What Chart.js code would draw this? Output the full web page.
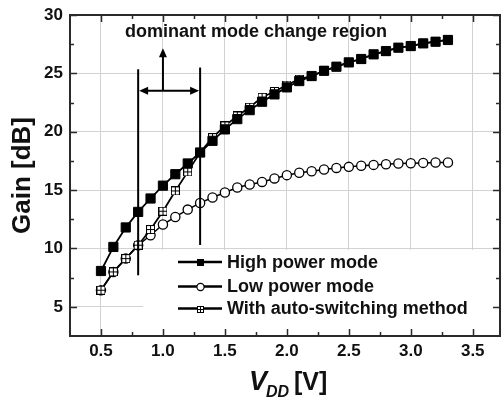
<!DOCTYPE html>
<html><head><meta charset="utf-8">
<script src="https://cdn.jsdelivr.net/npm/chart.js@4"></script>
<style>html,body{margin:0;padding:0;background:#fff;overflow:hidden}</style>
</head><body>
<canvas id="c" width="501" height="399"></canvas>
<script>
// ---- data ----
const vdd = [0.5,0.6,0.7,0.8,0.9,1.0,1.1,1.2,1.3,1.4,1.5,1.6,1.7,1.8,1.9,2.0,2.1,2.2,2.3,2.4,2.5,2.6,2.7,2.8,2.9,3.0,3.1,3.2,3.3];
const highGain = [8.07,10.13,11.8,13.13,14.28,15.38,16.36,17.28,18.22,19.22,20.2,21.08,21.85,22.57,23.2,23.8,24.34,24.77,25.22,25.57,25.94,26.23,26.63,26.91,27.2,27.34,27.57,27.71,27.86];
const lowGain = [6.42,7.99,9.13,10.28,11.13,12.05,12.7,13.33,13.9,14.37,14.79,15.22,15.48,15.7,16.0,16.28,16.48,16.62,16.77,16.9,16.99,17.08,17.16,17.22,17.28,17.3,17.33,17.36,17.36];
const autoGain = [6.42,7.99,9.13,10.28,11.62,13.19,14.93,16.56,18.22,19.5,20.5,21.35,22.1,22.95,23.45,24.0,24.5,24.77,25.22,25.57,25.94,26.23,26.63,26.91,27.2,27.34,27.57,27.71,27.86];
const seriesNames = ['High power mode','Low power mode','With auto-switching method'];
const xTicks = [0.5,1.0,1.5,2.0,2.5,3.0,3.5];
const xMinor = [0.75,1.25,1.75,2.25,2.75,3.25];
const yTicks = [5,10,15,20,25,30];
const yMinor = [7.5,12.5,17.5,22.5,27.5];
const yTitle = 'Gain [dB]';
const regionLabel = 'dominant mode change region';
const regionX = [0.8, 1.3];
const regionLineTop = [25.35, 25.5];
const regionLineBottom = [7.7, 10.3];
const regionArrowY = 23.5;
const regionArrowX = 1.0;
const regionArrowTop = 27.15;

function pts(ys){ return vdd.map((x,i)=>({x:x,y:ys[i]})); }

function makeAutoMarker(size){
  const c=document.createElement('canvas'); c.width=size; c.height=size;
  const g=c.getContext('2d');
  g.fillStyle='#fff'; g.fillRect(0,0,size,size);
  g.strokeStyle='#000'; g.lineWidth=1;
  g.strokeRect(0.5,0.5,size-1,size-1);
  const m=Math.floor(size/2)+0.5;
  g.beginPath(); g.moveTo(m,1); g.lineTo(m,size-1); g.moveTo(1,m); g.lineTo(size-1,m); g.stroke();
  return c;
}
const autoMarker = makeAutoMarker(9);
const autoMarkerSmall = makeAutoMarker(7);

const FONT = "'Liberation Sans', Arial, sans-serif";

const legendBox = {
  id:'legendBox',
  beforeDatasetsDraw(chart){
    const ctx=chart.ctx, a=chart.chartArea;
    ctx.save(); ctx.fillStyle='#fff';
    ctx.fillRect(143, 250, a.right-143, a.bottom-250);
    ctx.restore();
  }
};

const decorations = {
  id:'decorations',
  afterDatasetsDraw(chart){
    const ctx=chart.ctx, xs=chart.scales.x, ys=chart.scales.y;
    ctx.save();
    ctx.strokeStyle='#000'; ctx.fillStyle='#000'; ctx.lineWidth=2;
    for(let i=0;i<2;i++){
      const px=xs.getPixelForValue(regionX[i]);
      ctx.beginPath(); ctx.moveTo(px, ys.getPixelForValue(regionLineTop[i])); ctx.lineTo(px, ys.getPixelForValue(regionLineBottom[i])); ctx.stroke();
    }
    const ay=ys.getPixelForValue(regionArrowY);
    const x1=xs.getPixelForValue(regionX[0]), x2=xs.getPixelForValue(regionX[1]);
    ctx.beginPath(); ctx.moveTo(x1+6, ay); ctx.lineTo(x2-6, ay); ctx.stroke();
    const L=9, W=4;
    ctx.beginPath(); ctx.moveTo(x1+1,ay); ctx.lineTo(x1+1+L,ay-W); ctx.lineTo(x1+1+L,ay+W); ctx.closePath(); ctx.fill();
    ctx.beginPath(); ctx.moveTo(x2-1,ay); ctx.lineTo(x2-1-L,ay-W); ctx.lineTo(x2-1-L,ay+W); ctx.closePath(); ctx.fill();
    const vx=xs.getPixelForValue(regionArrowX), vt=ys.getPixelForValue(regionArrowTop);
    ctx.beginPath(); ctx.moveTo(vx, ay); ctx.lineTo(vx, vt+6); ctx.stroke();
    ctx.beginPath(); ctx.moveTo(vx,vt); ctx.lineTo(vx-W,vt+L); ctx.lineTo(vx+W,vt+L); ctx.closePath(); ctx.fill();
    ctx.font='bold 18px '+FONT; ctx.textAlign='center'; ctx.textBaseline='alphabetic';
    ctx.fillStyle='#111';
    ctx.fillText(regionLabel, 256, 37);
    ctx.restore();
  },
  afterDraw(chart){
    const ctx=chart.ctx, a=chart.chartArea, xs=chart.scales.x, ys=chart.scales.y;
    ctx.save();
    ctx.strokeStyle='#2a2a2a'; ctx.lineWidth=2;
    ctx.strokeRect(a.left, a.top, a.right-a.left, a.bottom-a.top);
    ctx.lineWidth=1.5;
    ctx.beginPath();
    const tick=(v,len,isX)=>{
      if(isX){ const p=Math.round(xs.getPixelForValue(v))+0.5;
        ctx.moveTo(p,a.bottom); ctx.lineTo(p,a.bottom-len);
        ctx.moveTo(p,a.top); ctx.lineTo(p,a.top+len);
      } else { const p=Math.round(ys.getPixelForValue(v))+0.5;
        ctx.moveTo(a.left,p); ctx.lineTo(a.left+len,p);
        ctx.moveTo(a.right,p); ctx.lineTo(a.right-len,p);
      }
    };
    xTicks.forEach(v=>tick(v,7,true)); xMinor.forEach(v=>tick(v,4,true));
    yTicks.forEach(v=>tick(v,7,false)); yMinor.forEach(v=>tick(v,4,false));
    ctx.stroke();
    const rows=[262,286.5,308.5];
    ctx.font='bold 18px '+FONT; ctx.textAlign='left'; ctx.textBaseline='middle';
    rows.forEach((y,i)=>{
      ctx.strokeStyle='#000'; ctx.lineWidth=2.3;
      ctx.beginPath(); ctx.moveTo(178,y); ctx.lineTo(222,y); ctx.stroke();
      if(i===0){ ctx.fillStyle='#000'; ctx.fillRect(197,y-3,7,7); }
      else if(i===1){ ctx.fillStyle='#fff'; ctx.lineWidth=1.2; ctx.beginPath(); ctx.arc(200.5,y+0.5,3.6,0,Math.PI*2); ctx.fill(); ctx.stroke(); }
      else { ctx.drawImage(autoMarkerSmall, 197, Math.round(y)-3); }
      ctx.fillStyle='#111';
      ctx.fillText(seriesNames[i], 227, y+1);
    });
    ctx.fillStyle='#111'; ctx.textBaseline='alphabetic';
    ctx.font='italic bold 27px '+FONT;
    ctx.fillText('V', 249, 390);
    ctx.font='italic bold 16px '+FONT;
    ctx.fillText('DD', 266, 397);
    ctx.font='bold 25px '+FONT;
    ctx.fillText('[V]', 294, 390);
    ctx.restore();
  }
};

const cfg = {
  type:'line',
  data:{ datasets:[
    { label:seriesNames[0], data:pts(highGain), order:1, borderColor:'#000', borderWidth:1.8,
      pointStyle:'rect', pointRadius:6.5, pointBackgroundColor:'#000', pointBorderColor:'#000', pointBorderWidth:1, tension:0 },
    { label:seriesNames[1], data:pts(lowGain), order:3, borderColor:'#000', borderWidth:1.5,
      pointStyle:'circle', pointRadius:4.6, pointBackgroundColor:'#fff', pointBorderColor:'#000', pointBorderWidth:1.3, tension:0 },
    { label:seriesNames[2], data:pts(autoGain), order:2, borderColor:'#000', borderWidth:1.8,
      pointStyle:autoMarker, pointRadius:4.5, tension:0 }
  ]},
  options:{
    responsive:false, animation:false, devicePixelRatio:1,
    layout:{ autoPadding:false, padding:{ top:15, right:1, left:0, bottom:0 } },
    plugins:{ legend:{display:false}, tooltip:{enabled:false} },
    scales:{
      x:{ type:'linear', min:0.25, max:3.72,
        afterBuildTicks(s){ s.ticks = xTicks.map(v=>({value:v})); },
        afterFit(s){ s.height = 63; s.paddingLeft = 0; s.paddingRight = 0; },
        grid:{ color:'#d2d2d2', lineWidth:1, drawTicks:false },
        border:{ display:false },
        ticks:{ font:{ family:FONT, size:17, weight:'bold' }, color:'#111', padding:5, maxRotation:0,
          callback:(v)=>Number(v).toFixed(1) }
      },
      y:{ type:'linear', min:2.5, max:30,
        afterBuildTicks(s){ s.ticks = yTicks.map(v=>({value:v})); },
        afterFit(s){ s.width = 70; s.paddingTop = 0; s.paddingBottom = 0; },
        grid:{ color:'#d2d2d2', lineWidth:1, drawTicks:false },
        border:{ display:false },
        ticks:{ font:{ family:FONT, size:17, weight:'bold' }, color:'#111', padding:7 },
        title:{ display:true, text:yTitle, font:{ family:FONT, size:26, weight:'bold' }, color:'#111', padding:{top:7,bottom:0} }
      }
    }
  },
  plugins:[legendBox, decorations]
};
new Chart(document.getElementById('c'), cfg);
</script>
</body></html>
